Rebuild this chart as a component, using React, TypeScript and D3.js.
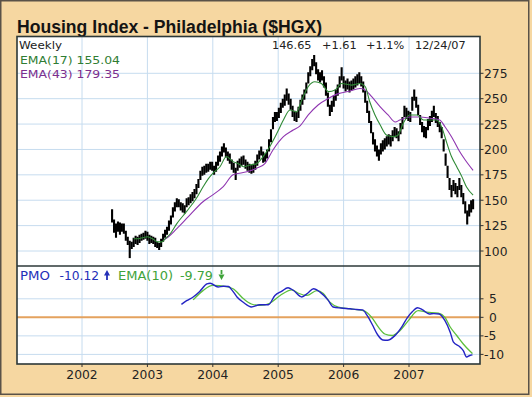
import React from 'react';
import * as d3 from 'd3';

// ---- Data ----
// weekly-ish price bars, dates every 0.03 year starting 2002.46
const priceStart = 2002.46;
const priceStep = 0.03;
const priceHigh = [
  141, 131, 127, 129, 128, 127, 127, 120, 114, 110, 109, 113, 115, 114, 116, 117, 118, 120, 119, 116,
  115, 114, 113, 109, 108, 112, 117, 121, 124, 130, 135, 143, 148, 152, 151, 148, 147, 145, 152, 153,
  156, 158, 161, 166, 171, 179, 183, 184, 186, 186, 188, 188, 184, 188, 194, 198, 203, 206, 202, 198,
  196, 190, 187, 182, 189, 191, 193, 194, 190, 188, 186, 185, 186, 189, 195, 199, 203, 198, 196, 200,
  210, 220, 232, 237, 237, 241, 246, 250, 254, 260, 255, 250, 243, 238, 237, 242, 249, 254, 259, 266,
  276, 282, 289, 293, 286, 279, 276, 278, 272, 266, 256, 244, 248, 253, 259, 264, 272, 281, 272, 268,
  270, 267, 268, 270, 272, 274, 276, 272, 267, 258, 248, 238, 228, 217, 210, 204, 200, 206, 209, 211,
  213, 215, 214, 219, 222, 221, 218, 226, 232, 243, 241, 238, 237, 252, 259, 252, 244, 234, 227, 223,
  222, 230, 233, 238, 243, 236, 233, 227, 222, 210, 196, 184, 172, 165, 170, 167, 164, 172, 165, 157,
  149, 140, 146, 150, 151,
];
const priceLow = [
  128, 118, 113, 119, 116, 119, 117, 110, 106, 93, 102, 104, 107, 106, 108, 110, 111, 112, 110, 107,
  108, 107, 104, 103, 101, 104, 109, 113, 116, 120, 126, 133, 139, 143, 143, 140, 138, 137, 143, 145,
  147, 149, 152, 156, 162, 170, 174, 175, 177, 178, 180, 179, 175, 178, 184, 188, 193, 197, 192, 189,
  186, 180, 177, 170, 179, 182, 184, 185, 181, 179, 177, 176, 177, 180, 184, 190, 194, 187, 188, 191,
  198, 207, 220, 227, 228, 231, 236, 241, 243, 248, 244, 239, 232, 228, 227, 231, 238, 244, 249, 255,
  265, 272, 278, 282, 274, 268, 266, 268, 261, 253, 242, 233, 237, 242, 248, 253, 261, 268, 260, 257,
  259, 256, 258, 259, 261, 263, 265, 262, 256, 246, 236, 226, 216, 205, 198, 193, 189, 195, 198, 200,
  203, 205, 203, 208, 212, 211, 208, 215, 220, 232, 230, 228, 227, 238, 248, 241, 234, 224, 217, 212,
  211, 219, 223, 227, 232, 226, 222, 217, 211, 198, 184, 172, 160, 153, 159, 156, 153, 160, 153, 146,
  137, 126, 134, 138, 141,
];

const ema17Dates = [
  2002.79, 2002.85, 2002.92, 2003.0, 2003.08, 2003.15, 2003.22, 2003.27, 2003.35, 2003.45, 2003.6, 2003.75,
  2003.85, 2003.93, 2004.0, 2004.11, 2004.21, 2004.31, 2004.39, 2004.47, 2004.57, 2004.67, 2004.77, 2004.87,
  2004.98, 2005.08, 2005.18, 2005.28, 2005.36, 2005.46, 2005.56, 2005.66, 2005.77, 2005.87, 2005.97, 2006.12,
  2006.25, 2006.33, 2006.4, 2006.48, 2006.56, 2006.66, 2006.76, 2006.83, 2006.91, 2007.01, 2007.12, 2007.22,
  2007.32, 2007.42, 2007.5, 2007.58, 2007.65, 2007.73, 2007.81, 2007.88, 2007.98,
];
const ema17Values = [
  112, 112, 113, 114, 112, 109, 109, 112, 117, 127, 139, 152,
  163, 171, 176.5, 183, 193, 188, 186, 183, 184.7, 186, 193, 202.7,
  215.9, 229, 238.8, 237, 248.7, 262, 266.7, 265, 257, 258.6, 265, 263.4,
  265, 262, 247, 234, 224, 214, 212.6, 214, 225.6, 234, 234, 229,
  229, 229, 222, 206, 193, 183, 173, 163, 155.04,
];

const ema43Dates = [
  2003.25, 2003.29, 2003.45, 2003.63, 2003.85, 2003.96, 2004.16, 2004.31, 2004.52, 2004.67, 2004.8, 2004.92,
  2005.08, 2005.23, 2005.33, 2005.46, 2005.61, 2005.77, 2005.92, 2006.07, 2006.25, 2006.33, 2006.43, 2006.56,
  2006.68, 2006.79, 2006.86, 2007.01, 2007.17, 2007.32, 2007.47, 2007.55, 2007.65, 2007.76, 2007.86, 2007.98,
];
const ema43Values = [
  111, 112.5, 122, 134, 148.5, 153.5, 163.3, 175, 178, 181.5, 186.4, 199.5,
  212.6, 219.2, 223, 234, 243.8, 250.4, 255, 257, 260, 258.6, 252, 242,
  234, 227, 229, 232, 232, 230.7, 229, 222.4, 212.6, 199.5, 189.6, 179.35,
];

const pmoDates = [
  2003.52, 2003.6, 2003.7, 2003.8, 2003.91, 2003.96, 2004.08, 2004.16, 2004.24, 2004.3, 2004.37, 2004.47,
  2004.59, 2004.72, 2004.85, 2004.95, 2005.05, 2005.15, 2005.23, 2005.36, 2005.45, 2005.54, 2005.64, 2005.76,
  2005.84, 2005.96, 2006.1, 2006.2, 2006.29, 2006.36, 2006.44, 2006.52, 2006.6, 2006.67, 2006.78, 2006.9,
  2006.97, 2007.05, 2007.13, 2007.21, 2007.31, 2007.38, 2007.46, 2007.55, 2007.63, 2007.68, 2007.78, 2007.83,
  2007.88, 2007.93, 2007.97,
];
const pmoValues = [
  3.5, 4.5, 5.5, 7.0, 9.0, 9.2, 8.2, 8.4, 8.3, 7.2, 5.5, 4.0,
  2.8, 3.4, 3.4, 5.9, 7.0, 8.0, 7.3, 5.5, 6.5, 7.7, 6.8, 4.7,
  2.8, 2.5, 2.3, 2.1, 2.0, 0.5, -2.0, -4.7, -6.1, -6.2, -5.0, -2.3,
  -0.2, 1.5, 2.6, 2.0, 0.9, 1.0, 0.9, -0.9, -4.0, -6.7, -8.0, -9.0,
  -10.7, -10.3, -10.12,
];

const pmoEmaDates = [
  2003.7, 2003.85, 2004.0, 2004.21, 2004.31, 2004.47, 2004.59, 2004.72, 2004.87, 2005.03, 2005.21, 2005.31,
  2005.44, 2005.59, 2005.69, 2005.79, 2005.92, 2006.1, 2006.3, 2006.43, 2006.53, 2006.63, 2006.74, 2006.86,
  2006.99, 2007.14, 2007.27, 2007.45, 2007.55, 2007.63, 2007.73, 2007.83, 2007.93, 2007.97,
];
const pmoEmaValues = [
  4.7, 7.2, 8.6, 8.3, 7.7, 5.0, 3.6, 3.2, 3.8, 5.9, 7.4, 6.5,
  5.9, 7.2, 6.4, 4.1, 2.75, 2.3, 1.8, 0.0, -2.6, -4.5, -4.9, -3.6,
  -0.9, 1.8, 1.4, 1.1, 0.0, -2.6, -4.9, -7.2, -9.1, -9.79,
];

const yearTicks = [2002, 2003, 2004, 2005, 2006, 2007];
const priceTicks = [100, 125, 150, 175, 200, 225, 250, 275];
const pmoTicks = [5, 0, -5, -10];

const title = 'Housing Index - Philadelphia ($HGX)';
const lastClose = '146.65';
const change = '+1.61';
const changePct = '+1.1%';
const lastDate = '12/24/07';

const FONT = "'DejaVu Sans', Verdana, sans-serif";

export default function App() {
  const W = 532;
  const H = 397;
  const L = 17;
  const R = 480;
  const T = 36.5;
  const M = 266;
  const B = 364;

  const x = d3.scaleLinear().domain([2002, 2007]).range([82, 409]);
  const y = d3.scaleLinear().domain([100, 275]).range([251, 73.3]);
  const yp = d3.scaleLinear().domain([-10, 5]).range([354.4, 298.8]);

  const bars = priceHigh.map((h, i) => ({ d: priceStart + i * priceStep, h, l: priceLow[i] }));

  const lineP = (ys: (v: number) => number) =>
    d3
      .line<[number, number]>()
      .x((p) => x(p[0]))
      .y((p) => ys(p[1]))
      .curve(d3.curveMonotoneX);

  const ema17 = ema17Dates.map((d, i) => [d, ema17Values[i]] as [number, number]);
  const ema43 = ema43Dates.map((d, i) => [d, ema43Values[i]] as [number, number]);
  const pmo = pmoDates.map((d, i) => [d, pmoValues[i]] as [number, number]);
  const pmoEma = pmoEmaDates.map((d, i) => [d, pmoEmaValues[i]] as [number, number]);

  const grid = '#c6dcef';
  const border = '#2c3838';

  return (
    <svg
      width={W}
      height={H}
      style={{ position: 'absolute', left: 0, top: 0, display: 'block' }}
      xmlns="http://www.w3.org/2000/svg"
    >
      <defs>
        <clipPath id="mainClip">
          <rect x={L} y={T} width={R - L} height={M - T} />
        </clipPath>
        <clipPath id="pmoClip">
          <rect x={L} y={M} width={R - L} height={B - M} />
        </clipPath>
      </defs>
      <rect x={0} y={0} width={W} height={H} fill="#f6d7a1" />
      <rect x={0.75} y={0.75} width={W - 4} height={H - 3.5} fill="none" stroke="#5a5248" strokeWidth={1.5} />

      {/* title */}
      <text
        x={17}
        y={33}
        fontFamily="'Liberation Sans', Arial, sans-serif"
        fontWeight="bold"
        fontSize={17.5}
        fill="#141414"
        textLength={305}
        lengthAdjust="spacingAndGlyphs"
      >
        {title}
      </text>

      {/* plot backgrounds */}
      <rect x={L} y={T} width={R - L} height={M - T} fill="#ffffff" />
      <rect x={L} y={M} width={R - L} height={B - M} fill="#ffffff" />

      {/* grids */}
      {yearTicks.map((t) => (
        <g key={'vg' + t}>
          <line x1={x(t)} x2={x(t)} y1={T} y2={M} stroke={grid} strokeWidth={1} />
          <line x1={x(t)} x2={x(t)} y1={M} y2={B} stroke={grid} strokeWidth={1} />
        </g>
      ))}
      {priceTicks.map((t) => (
        <line key={'hg' + t} x1={L} x2={R} y1={y(t)} y2={y(t)} stroke={grid} strokeWidth={1} />
      ))}
      {pmoTicks
        .filter((t) => t !== 0)
        .map((t) => (
          <line key={'pg' + t} x1={L} x2={R} y1={yp(t)} y2={yp(t)} stroke={grid} strokeWidth={1} />
        ))}
      <line x1={L} x2={R} y1={yp(0)} y2={yp(0)} stroke="#e4a25e" strokeWidth={2} />

      {/* price bars */}
      <g clipPath="url(#mainClip)">
        {bars.map((b, i) => (
          <line key={'b' + i} x1={x(b.d)} x2={x(b.d)} y1={y(b.l)} y2={y(b.h)} stroke="#000" strokeWidth={2.1} />
        ))}
        <path d={lineP(y)(ema43) || ''} fill="none" stroke="#8f35b0" strokeWidth={1.1} />
        <path d={lineP(y)(ema17) || ''} fill="none" stroke="#2f8a35" strokeWidth={1.1} />
      </g>

      {/* PMO */}
      <g clipPath="url(#pmoClip)">
        <path d={lineP(yp)(pmoEma) || ''} fill="none" stroke="#5cbf3c" strokeWidth={1.3} />
        <path d={lineP(yp)(pmo) || ''} fill="none" stroke="#2424c4" strokeWidth={1.4} />
      </g>

      {/* borders */}
      <rect x={L} y={T} width={R - L} height={B - T} fill="none" stroke={border} strokeWidth={1.6} />
      <line x1={L} x2={R} y1={M} y2={M} stroke={border} strokeWidth={1.6} />

      {/* y ticks main */}
      {priceTicks.map((t) => (
        <g key={'yt' + t}>
          <line x1={R} x2={R + 3.5} y1={y(t)} y2={y(t)} stroke="#333" strokeWidth={1} />
          <text x={484} y={y(t) + 4.5} fontFamily={FONT} fontSize={12.3} fill="#222">
            {t}
          </text>
        </g>
      ))}
      {/* y ticks pmo */}
      {pmoTicks.map((t) => (
        <g key={'pt' + t}>
          <line x1={R} x2={R + 3.5} y1={yp(t)} y2={yp(t)} stroke="#333" strokeWidth={1} />
          <text x={t < 0 ? 484 : 489} y={yp(t) + 4.5} fontFamily={FONT} fontSize={12.3} fill="#222">
            {t}
          </text>
        </g>
      ))}
      {/* x ticks */}
      {yearTicks.map((t) => (
        <g key={'xt' + t}>
          <line x1={x(t)} x2={x(t)} y1={B} y2={B + 3} stroke="#333" strokeWidth={1} />
          <text x={x(t)} y={379} textAnchor="middle" fontFamily={FONT} fontSize={12.3} fill="#222">
            {t}
          </text>
        </g>
      ))}

      {/* main legend */}
      <text x={19} y={48.5} fontFamily={FONT} fontSize={11.3} fill="#222" textLength={43} lengthAdjust="spacingAndGlyphs">
        Weekly
      </text>
      <text x={20} y={64} fontFamily={FONT} fontSize={11.3} fill="#2f7d33" textLength={100} lengthAdjust="spacingAndGlyphs">
        {'EMA(17) ' + ema17Values[ema17Values.length - 1].toFixed(2)}
      </text>
      <text x={20} y={77.5} fontFamily={FONT} fontSize={11.3} fill="#7c2e8e" textLength={100} lengthAdjust="spacingAndGlyphs">
        {'EMA(43) ' + ema43Values[ema43Values.length - 1].toFixed(2)}
      </text>

      {/* top right quote */}
      <g fontFamily={FONT} fontSize={11.3} fill="#222">
        <text x={272} y={49}>{lastClose}</text>
        <text x={322} y={49}>{change}</text>
        <text x={366} y={49}>{changePct}</text>
        <text x={415} y={49}>{lastDate}</text>
      </g>

      {/* PMO legend */}
      <g fontFamily={FONT} fontSize={12}>
        <text x={20} y={279.5} fill="#2430b8" textLength={30} lengthAdjust="spacingAndGlyphs">PMO</text>
        <text x={59.5} y={279.5} fill="#2430b8" textLength={39.5} lengthAdjust="spacingAndGlyphs">
          {pmoValues[pmoValues.length - 1].toFixed(2)}
        </text>
        <path d="M104,275.5 L107,270 L110,275.5 Z M106.1,275 H107.9 V280 H106.1 Z" fill="#2430b8" />
        <text x={118} y={279.5} fill="#3fa33a" textLength={55} lengthAdjust="spacingAndGlyphs">EMA(10)</text>
        <text x={180} y={279.5} fill="#3fa33a" textLength={33} lengthAdjust="spacingAndGlyphs">
          {pmoEmaValues[pmoEmaValues.length - 1].toFixed(2)}
        </text>
        <path d="M218.5,274.5 L221.5,280 L224.5,274.5 Z M220.6,270 H222.4 V275 H220.6 Z" fill="#3fa33a" />
      </g>
    </svg>
  );
}
